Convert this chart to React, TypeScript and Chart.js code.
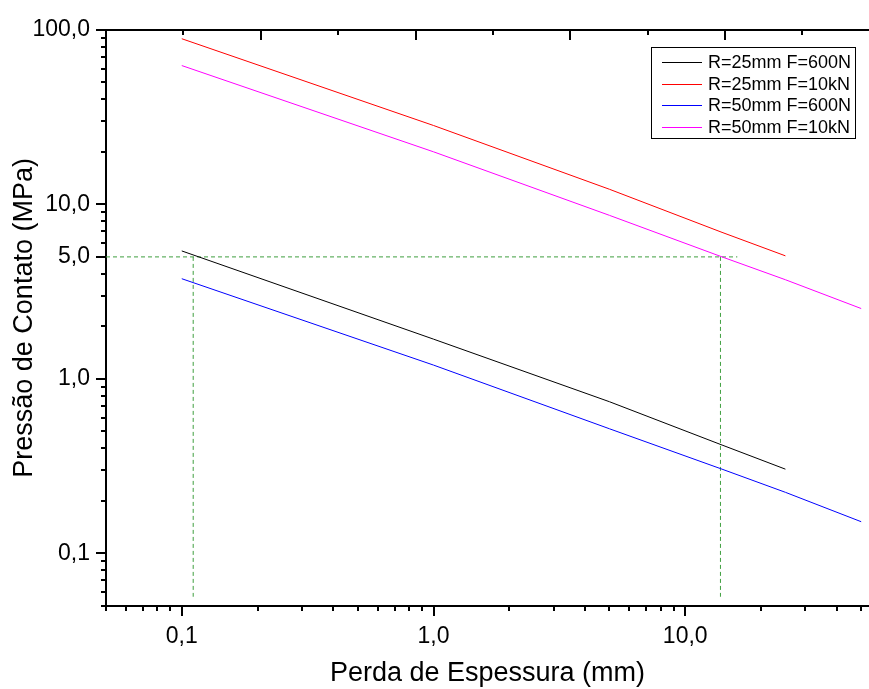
import React, { useEffect, useRef } from 'react';
import { Chart, registerables } from 'chart.js';

Chart.register(...registerables);

// ---- data ----
const xR25 = [0.1, 1, 5, 14, 25];
const pR25F600 = [5.41, 1.69, 0.74, 0.418, 0.304];
const pR25F10k = [88.9, 28.3, 12.2, 6.91, 5.07];
const xR50 = [0.1, 1, 5, 14, 25, 50];
const pR50F600 = [3.75, 1.2, 0.518, 0.304, 0.224, 0.152];
const pR50F10k = [62.4, 20.0, 8.65, 5.0, 3.7, 2.53];

const seriesLabels = ['R=25mm F=600N', 'R=25mm F=10kN', 'R=50mm F=600N', 'R=50mm F=10kN'];
const seriesColors = ['#000000', '#ff0000', '#0000ff', '#ff00ff'];

// green dashed guide lines
const guideY = 5;
const guideHX = [0.05, 16.1];
const guideV1X = 0.111;
const guideV2X = 13.8;
const guideBottomY = 0.0565;
const guideColor = '#3f9f3f';

// axis ranges and ticks
const xMin = 0.05;
const xMax = 53.7;
const yMin = 0.05;
const yMax = 100;
const topMax = 4.93;
const xMajorTicks = [0.1, 1, 10];
const xMinorTicks = [0.05, 0.06, 0.07, 0.08, 0.09, 0.2, 0.3, 0.4, 0.5, 0.6, 0.7, 0.8, 0.9, 2, 3, 4, 5, 6, 7, 8, 9, 20, 30, 40, 50];
const yMajorTicks = [0.1, 1, 5, 10, 100];
const yMinorTicks = [0.05, 0.06, 0.07, 0.08, 0.09, 0.2, 0.3, 0.4, 0.5, 0.6, 0.7, 0.8, 0.9, 2, 3, 4, 6, 7, 8, 9, 20, 30, 40, 50, 60, 70, 80, 90];
const topMajorTicks = [0, 1, 2, 3, 4];
const topMinorTicks = [0.5, 1.5, 2.5, 3.5, 4.5];

const xTitle = 'Perda de Espessura (mm)';
const yTitle = 'Pressão de Contato (MPa)';

const FONT = "'Liberation Sans', Arial, sans-serif";
const fmt = (v: number) => v.toFixed(1).replace('.', ',');

const axisDecor = {
  id: 'axisDecor',
  afterDraw(chart: any) {
    const { ctx, chartArea } = chart;
    const xs = chart.scales.x;
    const ys = chart.scales.y;
    const xt = chart.scales.x2;
    ctx.save();
    ctx.lineCap = 'butt';
    const line = (color: string, w: number, x1: number, y1: number, x2: number, y2: number) => {
      ctx.strokeStyle = color;
      ctx.lineWidth = w;
      ctx.beginPath();
      ctx.moveTo(x1, y1);
      ctx.lineTo(x2, y2);
      ctx.stroke();
    };
    const bottom = Math.round(chartArea.bottom);
    const left = Math.round(chartArea.left);
    const top = Math.round(chartArea.top);
    xMajorTicks.forEach((v) => { const p = Math.round(xs.getPixelForValue(v)); line('#000', 2, p, bottom, p, bottom + 10); });
    xMinorTicks.forEach((v) => { const p = Math.round(xs.getPixelForValue(v)); line('#000', 2, p, bottom, p, bottom + 5); });
    yMajorTicks.forEach((v) => { const p = Math.round(ys.getPixelForValue(v)); line('#000', 2, left, p, left - 10, p); });
    yMinorTicks.forEach((v) => { const p = Math.round(ys.getPixelForValue(v)); line('#000', 2, left, p, left - 5, p); });
    topMajorTicks.forEach((v) => { const p = Math.round(xt.getPixelForValue(v)); line('#000', 2, p, top, p, top + 10); });
    topMinorTicks.forEach((v) => { const p = Math.round(xt.getPixelForValue(v)); line('#000', 2, p, top, p, top + 5); });

    // legend box
    const boxW = 204;
    const boxH = 91;
    const bx = Math.round(chartArea.right) - 14 - boxW;
    const by = top + 17;
    ctx.fillStyle = '#fff';
    ctx.fillRect(bx, by, boxW, boxH);
    ctx.strokeStyle = '#000';
    ctx.lineWidth = 1;
    ctx.strokeRect(bx + 0.5, by + 0.5, boxW, boxH);
    ctx.font = `18px ${FONT}`;
    ctx.textBaseline = 'middle';
    ctx.textAlign = 'left';
    seriesLabels.forEach((lab, i) => {
      const cy = Math.round(by + 15 + i * 21.7);
      line(seriesColors[i], 1, bx + 11, cy + 0.5, bx + 51, cy + 0.5);
      ctx.fillStyle = '#000';
      ctx.fillText(lab, bx + 57, cy + 1);
    });
    ctx.restore();
  },
};

export default function App() {
  const ref = useRef<HTMLCanvasElement | null>(null);
  useEffect(() => {
    document.body.style.margin = '0';
    const canvas = ref.current;
    if (!canvas) return;
    const pts = (xs: number[], ys: number[]) => xs.map((x, i) => ({ x, y: ys[i] }));
    const guide = (data: { x: number; y: number }[]) => ({
      label: '',
      data,
      borderColor: guideColor,
      borderWidth: 1,
      borderDash: [4, 3],
      pointRadius: 0,
      fill: false,
      tension: 0,
    });
    const main = (data: { x: number; y: number }[], i: number) => ({
      label: seriesLabels[i],
      data,
      borderColor: seriesColors[i],
      backgroundColor: seriesColors[i],
      borderWidth: 1,
      pointRadius: 0,
      fill: false,
      tension: 0,
    });
    const chart = new Chart(canvas, {
      type: 'line',
      data: {
        datasets: [
          main(pts(xR25, pR25F600), 0),
          main(pts(xR25, pR25F10k), 1),
          main(pts(xR50, pR50F600), 2),
          main(pts(xR50, pR50F10k), 3),
          guide(guideHX.map((x) => ({ x, y: guideY }))),
          guide([{ x: guideV1X, y: guideY }, { x: guideV1X, y: guideBottomY }]),
          guide([{ x: guideV2X, y: guideY }, { x: guideV2X, y: guideBottomY }]),
        ],
      },
      options: {
        responsive: false,
        animation: false,
        layout: { padding: 0 },
        plugins: { legend: { display: false }, tooltip: { enabled: false } },
        scales: {
          x: {
            type: 'logarithmic',
            position: 'bottom',
            min: xMin,
            max: xMax,
            grid: { display: false, drawTicks: false },
            border: { display: true, color: '#000', width: 2 },
            afterBuildTicks: (s: any) => { s.ticks = xMajorTicks.map((v) => ({ value: v })); },
            afterFit: (s: any) => { s.height = 83; },
            ticks: {
              autoSkip: false,
              maxRotation: 0,
              padding: 17,
              color: '#000',
              font: { family: FONT, size: 23 },
              callback: (v: any) => fmt(Number(v)),
            },
            title: {
              display: true,
              text: xTitle,
              color: '#000',
              font: { family: FONT, size: 27, lineHeight: 1.15 },
              padding: { top: 0, bottom: 0 },
            },
          },
          x2: {
            type: 'linear',
            position: 'top',
            min: 0,
            max: topMax,
            grid: { display: false, drawTicks: false },
            border: { display: true, color: '#000', width: 2 },
            ticks: { display: false },
            afterFit: (s: any) => { s.height = 25; },
          },
          y: {
            type: 'logarithmic',
            position: 'left',
            min: yMin,
            max: yMax,
            grid: { display: false, drawTicks: false },
            border: { display: true, color: '#000', width: 2 },
            afterBuildTicks: (s: any) => { s.ticks = yMajorTicks.map((v) => ({ value: v })); },
            afterFit: (s: any) => { s.width = 106; },
            ticks: {
              autoSkip: false,
              padding: 16,
              color: '#000',
              font: { family: FONT, size: 23 },
              callback: (v: any) => fmt(Number(v)),
            },
            title: {
              display: true,
              text: yTitle,
              color: '#000',
              font: { family: FONT, size: 27, lineHeight: 1.15 },
              padding: { top: 9, bottom: 0 },
            },
          },
        },
      },
      plugins: [axisDecor],
    } as any);
    return () => chart.destroy();
  }, []);
  return (
    <div style={{ width: 869, height: 689 }}>
      <canvas ref={ref} width={869} height={689} style={{ display: 'block' }} />
    </div>
  );
}
